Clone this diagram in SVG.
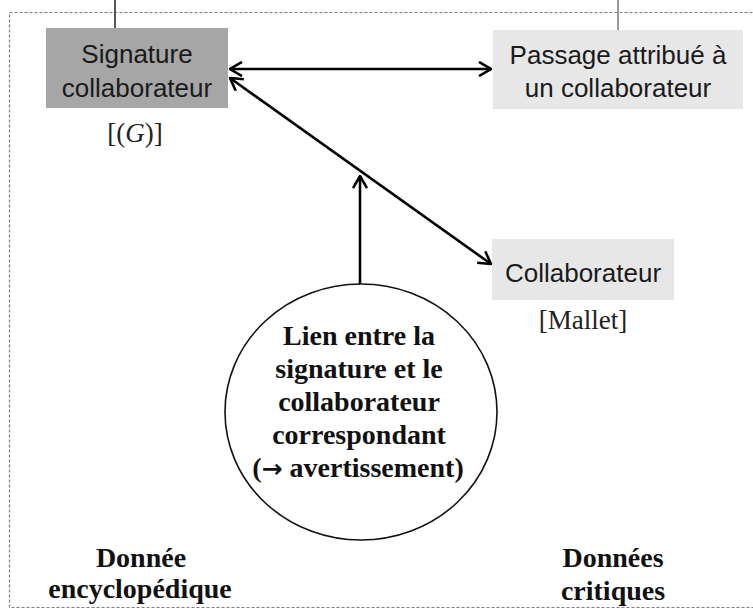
<svg xmlns="http://www.w3.org/2000/svg" width="753" height="609" viewBox="0 0 753 609">
<style>
.sans{font-family:"Liberation Sans",Arial,sans-serif;font-size:26px;fill:#1a1a1a;text-anchor:middle}
.serif{font-family:"Liberation Serif","Times New Roman",serif;font-size:27px;fill:#222;text-anchor:middle}
.bold{font-family:"Liberation Serif","Times New Roman",serif;font-size:28px;font-weight:bold;fill:#111;text-anchor:middle}
.conn{stroke:#000;stroke-width:2.6;fill:none}
</style>
<defs>
<marker id="arr" markerUnits="userSpaceOnUse" viewBox="0 0 14 16" refX="13" refY="8" markerWidth="14" markerHeight="16" orient="auto-start-reverse">
<path d="M1,1 L13,8 L1,15" fill="none" stroke="#000" stroke-width="2.6" stroke-linejoin="miter"/>
</marker>
</defs>
<rect width="753" height="609" fill="#fff"/>
<g id="frame">
<rect x="9.5" y="12.5" width="760" height="595" fill="none" stroke="#808080" stroke-width="1.2" stroke-dasharray="3,2"/>
<line x1="115" y1="0" x2="115" y2="28" stroke="#555" stroke-width="2"/>
<line x1="618" y1="0" x2="618" y2="30" stroke="#999" stroke-width="2"/>
</g>
<g id="signature">
<rect x="46" y="28" width="182" height="80" fill="#a6a6a6"/>
<text class="sans" x="137" y="63">Signature</text>
<text class="sans" x="137" y="97">collaborateur</text>
<text class="serif" x="135" y="142">[(<tspan font-style="italic">G</tspan>)]</text>
</g>
<g id="passage">
<rect x="493" y="30" width="250" height="79" fill="#e7e7e7"/>
<text class="sans" x="618" y="64">Passage attribué à</text>
<text class="sans" x="618" y="97">un collaborateur</text>
</g>
<g id="collaborateur">
<rect x="492" y="239" width="182" height="61" fill="#e7e7e7"/>
<text class="sans" x="583" y="282">Collaborateur</text>
<text class="serif" x="583" y="329">[Mallet]</text>
</g>
<g id="lien">
<ellipse cx="361" cy="412" rx="136" ry="128" fill="#fff" stroke="#111" stroke-width="1.6"/>
<text class="bold" x="359" y="345">Lien entre la</text>
<text class="bold" x="359" y="378">signature et le</text>
<text class="bold" x="359" y="411">collaborateur</text>
<text class="bold" x="359" y="444">correspondant</text>
<text class="bold" x="358" y="477">(<tspan font-family="DejaVu Sans, sans-serif" font-size="25">→</tspan> avertissement)</text>
</g>
<g id="donnee-encyclopedique">
<text class="bold" x="141" y="567">Donnée</text>
<text class="bold" x="140" y="598">encyclopédique</text>
</g>
<g id="donnees-critiques">
<text class="bold" x="613" y="567">Données</text>
<text class="bold" x="613" y="600">critiques</text>
</g>
<g id="connectors">
<line class="conn" x1="230" y1="69" x2="491" y2="69" marker-start="url(#arr)" marker-end="url(#arr)"/>
<line class="conn" x1="230" y1="78" x2="491" y2="264" marker-start="url(#arr)" marker-end="url(#arr)"/>
<line class="conn" x1="360" y1="284" x2="360" y2="176" marker-end="url(#arr)"/>
</g>
</svg>
